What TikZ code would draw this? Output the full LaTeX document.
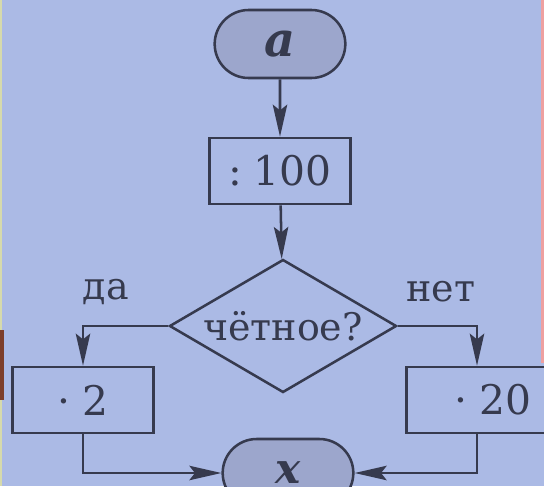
\documentclass[tikz,border=0pt]{standalone}
\usepackage{fontspec}
\setmainfont{DejaVu Serif}
\usetikzlibrary{shapes.geometric,shapes.misc,arrows.meta}
\definecolor{bgblue}{RGB}{171,186,229}
\definecolor{termfill}{RGB}{156,166,204}
\definecolor{ink}{RGB}{54,58,78}
\definecolor{edgepink}{RGB}{238,160,160}
\definecolor{edgebrown}{RGB}{125,62,42}
\definecolor{edgeyellow}{RGB}{214,218,172}
\tikzset{
	every node/.style={text=ink},
	term/.style={rounded rectangle,draw=ink,fill=termfill,line width=1.8pt,minimum width=3.5cm,minimum height=1.7cm,font=\fontsize{34}{36}\selectfont\bfseries\itshape},
	opbox/.style={rectangle,draw=ink,line width=1.8pt,minimum width=3.525cm,minimum height=1.65cm,font=\fontsize{29}{31}\selectfont},
	cond/.style={diamond,aspect=1.7,draw=ink,line width=1.8pt,inner sep=0pt,minimum width=5.675cm,minimum height=3.325cm,font=\fontsize{27}{29}\selectfont},
	branch/.style={font=\fontsize{27}{29}\selectfont},
	arr/.style={draw=ink,line width=1.8pt,-{Stealth[length=0.8cm,width=0.36cm,inset=0.14cm]}}
}
\begin{document}
\begin{tikzpicture}[x=0.025cm,y=-0.025cm]
	\useasboundingbox (0,0) rectangle (544,486);
	\clip (0,0) rectangle (544,486);
	\fill[bgblue] (0,0) rectangle (544,486);
	\fill[edgeyellow] (0,0) rectangle (2,486);
	\fill[edgebrown] (0,330) rectangle (4,400);
	\fill[edgepink] (541,0) rectangle (544,363);
	\node[term] (a) at (280,44) {a};
	\node[opbox] (div) at (280,171) {:\;100};
	\node[cond] (even) at (283,326) {чётное?};
	\node[opbox] (mul2) at (83,400) {·\;2};
	\node[opbox] (mul20) at (477,400) {\hspace*{0.8cm}·\;20};
	\node[term,font=\fontsize{30}{32}\selectfont\bfseries\itshape] (x) at (288,473) {x};
	\node[branch] (yes) at (106,292) {да};
	\node[branch] (no) at (441,292) {нет};
	\draw[arr] (a) -- (div);
	\draw[arr] (div) -- (even);
	\draw[arr] (even.west) -| (mul2);
	\draw[arr] (even.east) -| (mul20);
	\draw[arr] (mul2) |- (x);
	\draw[arr] (mul20) |- (x);
\end{tikzpicture}
\end{document}
